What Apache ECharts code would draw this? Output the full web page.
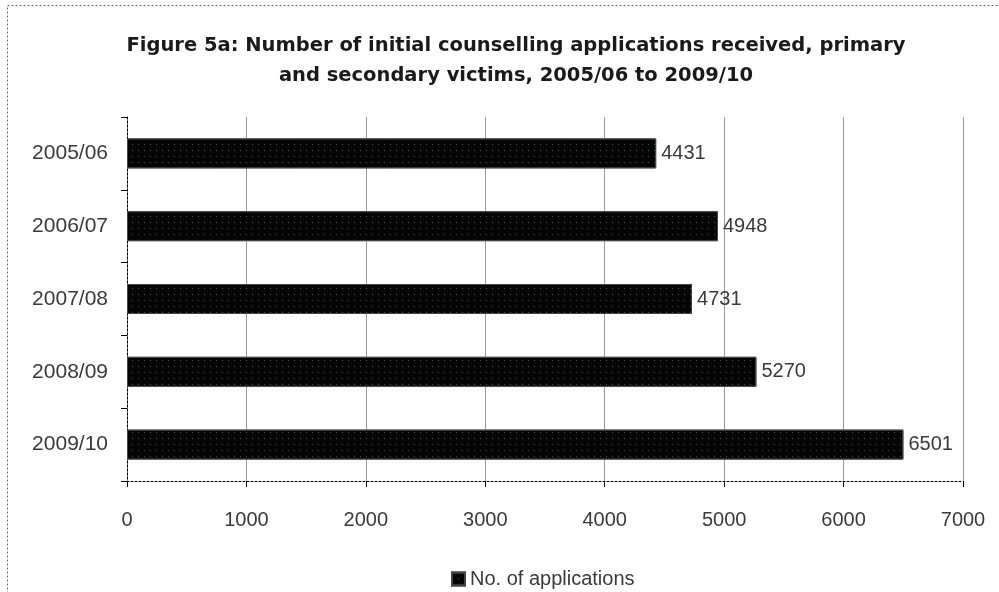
<!DOCTYPE html>
<html>
<head>
<meta charset="utf-8">
<script src="https://cdn.jsdelivr.net/npm/echarts@6/dist/echarts.min.js"></script>
<style>
  html, body { margin: 0; padding: 0; background: #fff; }
  #chart { width: 999px; height: 592px; }
</style>
</head>
<body>
<div id="chart"></div>
<script>
// Initial counselling applications per financial year
const years = ['2005/06', '2006/07', '2007/08', '2008/09', '2009/10'];
const applications = [4431, 4948, 4731, 5270, 6501];
const xTicks = [0, 1000, 2000, 3000, 4000, 5000, 6000, 7000];
const seriesName = 'No. of applications';

const FONT = '"Liberation Sans", Arial, sans-serif';
const chart = echarts.init(document.getElementById('chart'), null, { renderer: 'canvas' });

chart.setOption({
  backgroundColor: '#fff',
  animation: false,
  title: {
    text: 'Figure 5a: Number of initial counselling applications received, primary\nand secondary victims, 2005/06 to 2009/10',
    left: 511,
    top: 26,
    textAlign: 'center',
    textStyle: {
      fontFamily: '"DejaVu Sans", sans-serif',
      fontSize: 19.5,
      fontWeight: 'bold',
      color: '#1a1a1a',
      lineHeight: 30
    }
  },
  legend: {
    left: 446,
    top: 564,
    icon: 'rect',
    itemWidth: 13,
    itemHeight: 13,
    itemGap: 8,
    textStyle: { fontFamily: FONT, fontSize: 20, color: '#3a3a3a' },
    data: [seriesName]
  },
  grid: { left: 127, right: 36, top: 117, bottom: 111, containLabel: false },
  xAxis: {
    type: 'value',
    min: xTicks[0],
    max: xTicks[xTicks.length - 1],
    interval: 1000,
    axisLine: { show: true, lineStyle: { color: '#000', type: [2, 2], width: 1 } },
    axisTick: { show: true, length: 6, lineStyle: { color: '#000' } },
    axisLabel: {
      fontFamily: FONT, fontSize: 20, color: '#3a3a3a', margin: 29,
      formatter: (v) => String(v)
    },
    splitLine: { show: true, lineStyle: { color: '#9a9a9a', width: 1 } }
  },
  yAxis: {
    type: 'category',
    data: years,
    inverse: true,
    axisLine: { show: true, lineStyle: { color: '#000', type: [2, 2], width: 1 } },
    axisTick: { show: true, length: 6, alignWithLabel: false, lineStyle: { color: '#000' } },
    axisLabel: { fontFamily: FONT, fontSize: 21, color: '#3a3a3a', margin: 19 },
    splitLine: { show: false }
  },
  graphic: [{
    type: 'rect',
    shape: { x: 7.5, y: 5.5, width: 1100, height: 700 },
    style: { fill: null, stroke: '#666', lineWidth: 1, lineDash: [2, 2] },
    silent: true,
    z: -1
  }],
  series: [{
    name: seriesName,
    type: 'bar',
    data: applications,
    barWidth: 30,
    itemStyle: {
      color: '#050505',
      borderColor: '#444',
      borderWidth: 1,
      decal: {
        symbol: 'rect',
        symbolSize: 1,
        color: 'rgba(70,120,120,0.7)',
        dashArrayX: [1, 5],
        dashArrayY: [1, 5],
        rotation: 0
      }
    },
    label: {
      show: true,
      position: 'right',
      distance: 5,
      fontFamily: FONT,
      fontSize: 20,
      color: '#3a3a3a',
      formatter: (p) => String(p.value)
    }
  }]
});
</script>
</body>
</html>
